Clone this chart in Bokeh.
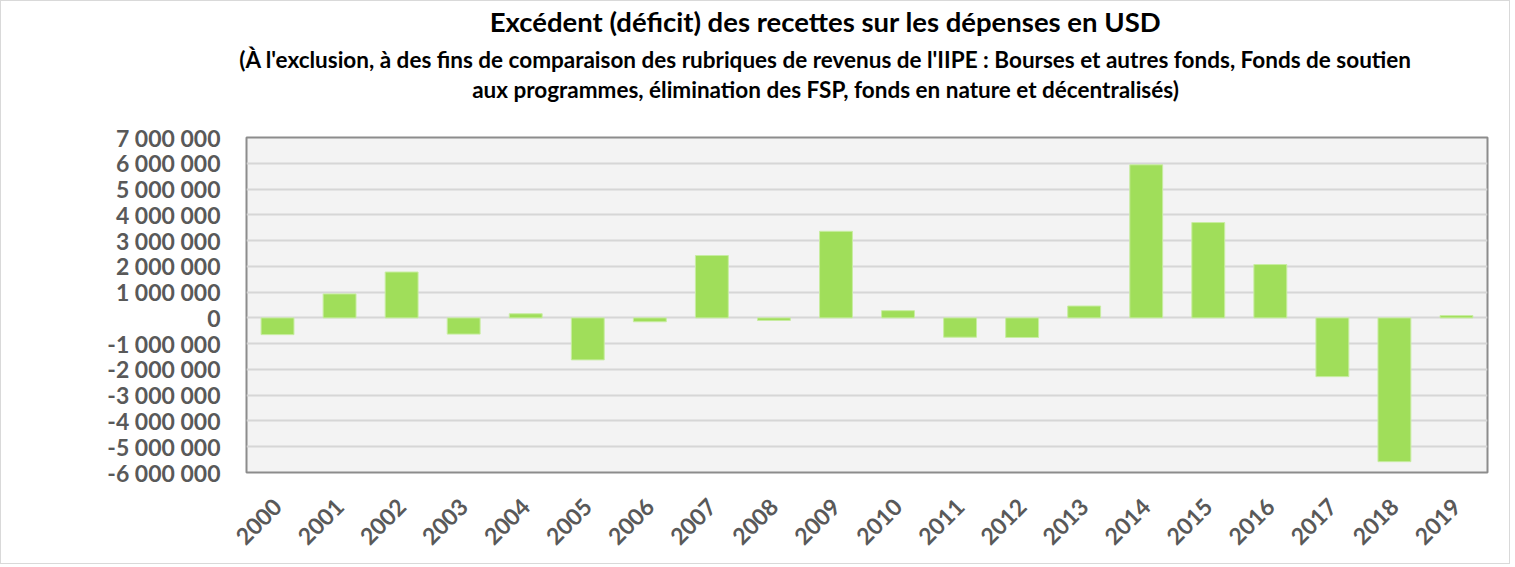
from bokeh.plotting import figure
from bokeh.models import ColumnDataSource, FixedTicker, Range1d
from bokeh.layouts import column
from bokeh.core.properties import value
from bokeh.embed import file_html
from bokeh.resources import INLINE
import math

# ---- data ----
years = [str(y) for y in range(2000, 2020)]
values = [-650000, 930000, 1780000, -630000, 160000, -1630000, -150000, 2420000,
          -100000, 3360000, 280000, -750000, -760000, 460000, 5940000, 3700000,
          2070000, -2280000, -5580000, 90000]
y_ticks = [-6000000, -5000000, -4000000, -3000000, -2000000, -1000000, 0,
           1000000, 2000000, 3000000, 4000000, 5000000, 6000000, 7000000]
y_tick_labels = ["-6 000 000", "-5 000 000", "-4 000 000", "-3 000 000", "-2 000 000",
                 "-1 000 000", "0", "1 000 000", "2 000 000", "3 000 000", "4 000 000",
                 "5 000 000", "6 000 000", "7 000 000"]
title_lines = ["Excédent (déficit) des recettes sur les dépenses en USD",
               "(À l'exclusion, à des fins de comparaison des rubriques de revenus de l'IIPE : Bourses et autres fonds, Fonds de soutien",
               "aux programmes, élimination des FSP, fonds en nature et décentralisés)"]

FONT = "Lato"
TXT = "#595959"

# ---- title block (own canvas; x range in page pixels, y in pixels from top) ----
t = figure(width=1508, height=110, output_backend="svg", toolbar_location=None,
           x_range=Range1d(1, 1509), y_range=Range1d(110, 0),
           x_axis_location=None, y_axis_location=None,
           min_border_left=0, min_border_right=0, min_border_top=0, min_border_bottom=0,
           outline_line_color=None, background_fill_color="white", border_fill_color="white")
t.frame_align = False
t.xgrid.grid_line_color = None
t.ygrid.grid_line_color = None
for txt, yy, size in zip(title_lines, [20, 58, 88], ["27.5px", "22.5px", "22.5px"]):
    t.text(x=[825], y=[yy], text=[txt], text_align="center", text_baseline="alphabetic",
           text_font=value(FONT), text_font_style="bold", text_font_size=size,
           text_color="black")

# ---- chart ----
src = ColumnDataSource(dict(year=years, value=values))

p = figure(x_range=years, y_range=(y_ticks[0], y_ticks[-1]),
           width=1508, height=452, output_backend="svg", toolbar_location=None,
           min_border_left=245, min_border_right=22, min_border_top=26, min_border_bottom=91,
           background_fill_color="#f3f3f3", border_fill_color="white",
           outline_line_color="#8c8c8c", outline_line_width=2)
p.frame_align = False
p.x_range.range_padding = 0

p.vbar(x="year", top="value", bottom=0, width=0.53, source=src,
       fill_color="#a0de5a", line_color="#c8eda2", line_width=1)

p.yaxis.ticker = FixedTicker(ticks=y_ticks)
p.yaxis.major_label_overrides = {tk: lb for tk, lb in zip(y_ticks, y_tick_labels)}
for ax in (p.xaxis[0], p.yaxis[0]):
    ax.axis_line_color = None
    ax.major_tick_line_color = None
    ax.minor_tick_line_color = None
    ax.major_label_text_font = FONT
    ax.major_label_text_font_style = "bold"
    ax.major_label_text_color = TXT
    ax.major_label_text_font_size = "23px"
p.yaxis.major_label_standoff = 20
p.xaxis.major_label_orientation = math.pi / 4
p.xaxis.major_label_standoff = 24

p.xgrid.grid_line_color = None
p.ygrid.grid_line_color = "#d6d6d6"
p.ygrid.grid_line_width = 2

layout = column(t, p, spacing=0, styles={"border": "1px solid #d9d9d9"})

open("out.html", "w").write(file_html(layout, INLINE))
